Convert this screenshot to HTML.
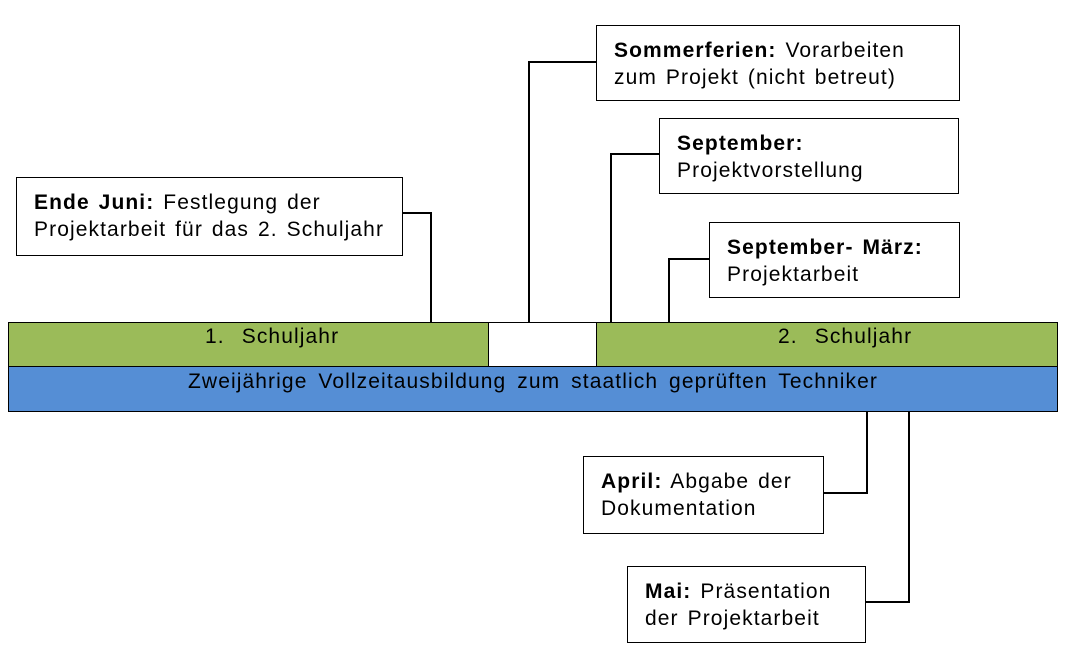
<!DOCTYPE html>
<html><head><meta charset="utf-8"><style>
body{margin:0;width:1066px;height:660px;background:#fff;position:relative;overflow:hidden;font-family:"Liberation Sans",Arial,sans-serif;font-size:21px;letter-spacing:1.1px;word-spacing:2px;color:#000}
.b{position:absolute;border:1.5px solid #000;background:#fff;box-sizing:border-box;padding:11px 0 0 17px;line-height:27px;white-space:nowrap}
.l{position:absolute;background:#000}
.bar{position:absolute;box-sizing:border-box;border:1.5px solid #000;line-height:28px;white-space:nowrap}
</style></head><body>
<div class="bar" style="left:8px;top:322px;width:481px;height:45px;background:#9bbb59;padding-left:196px">1.<span style="display:inline-block;width:17px"></span>Schuljahr</div>
<div class="bar" style="left:488px;top:322px;width:109px;height:45px;background:#fff"></div>
<div class="bar" style="left:596px;top:322px;width:462px;height:45px;background:#9bbb59;padding-left:181px">2.<span style="display:inline-block;width:17px"></span>Schuljahr</div>
<div class="bar" style="left:8px;top:366px;width:1050px;height:46px;background:#558ed5;line-height:30px;padding-left:179px;word-spacing:4px">Zweijährige Vollzeitausbildung zum staatlich geprüften Techniker</div>

<div class="b" style="left:16px;top:177px;width:387px;height:79px"><b>Ende Juni:</b> Festlegung der<br>Projektarbeit für das 2. Schuljahr</div>
<div class="l" style="left:402px;top:212px;width:30px;height:2px"></div>
<div class="l" style="left:430px;top:212px;width:2px;height:111px"></div>

<div class="b" style="left:596px;top:25px;width:364px;height:76px"><b>Sommerferien:</b> Vorarbeiten<br>zum Projekt (nicht betreut)</div>
<div class="l" style="left:528px;top:61px;width:68px;height:2px"></div>
<div class="l" style="left:528px;top:61px;width:2px;height:262px"></div>

<div class="b" style="left:659px;top:118px;width:300px;height:76px"><b>September:</b><br>Projektvorstellung</div>
<div class="l" style="left:610px;top:153px;width:49px;height:2px"></div>
<div class="l" style="left:610px;top:153px;width:2px;height:170px"></div>

<div class="b" style="left:709px;top:222px;width:251px;height:76px"><b>September- März:</b><br>Projektarbeit</div>
<div class="l" style="left:668px;top:258px;width:41px;height:2px"></div>
<div class="l" style="left:668px;top:258px;width:2px;height:65px"></div>

<div class="b" style="left:583px;top:456px;width:241px;height:78px"><b>April:</b> Abgabe der<br>Dokumentation</div>
<div class="l" style="left:823px;top:492px;width:45px;height:2px"></div>
<div class="l" style="left:866px;top:411px;width:2px;height:83px"></div>

<div class="b" style="left:627px;top:566px;width:239px;height:77px"><b>Mai:</b> Präsentation<br>der Projektarbeit</div>
<div class="l" style="left:865px;top:601px;width:45px;height:2px"></div>
<div class="l" style="left:908px;top:411px;width:2px;height:192px"></div>
</body></html>
